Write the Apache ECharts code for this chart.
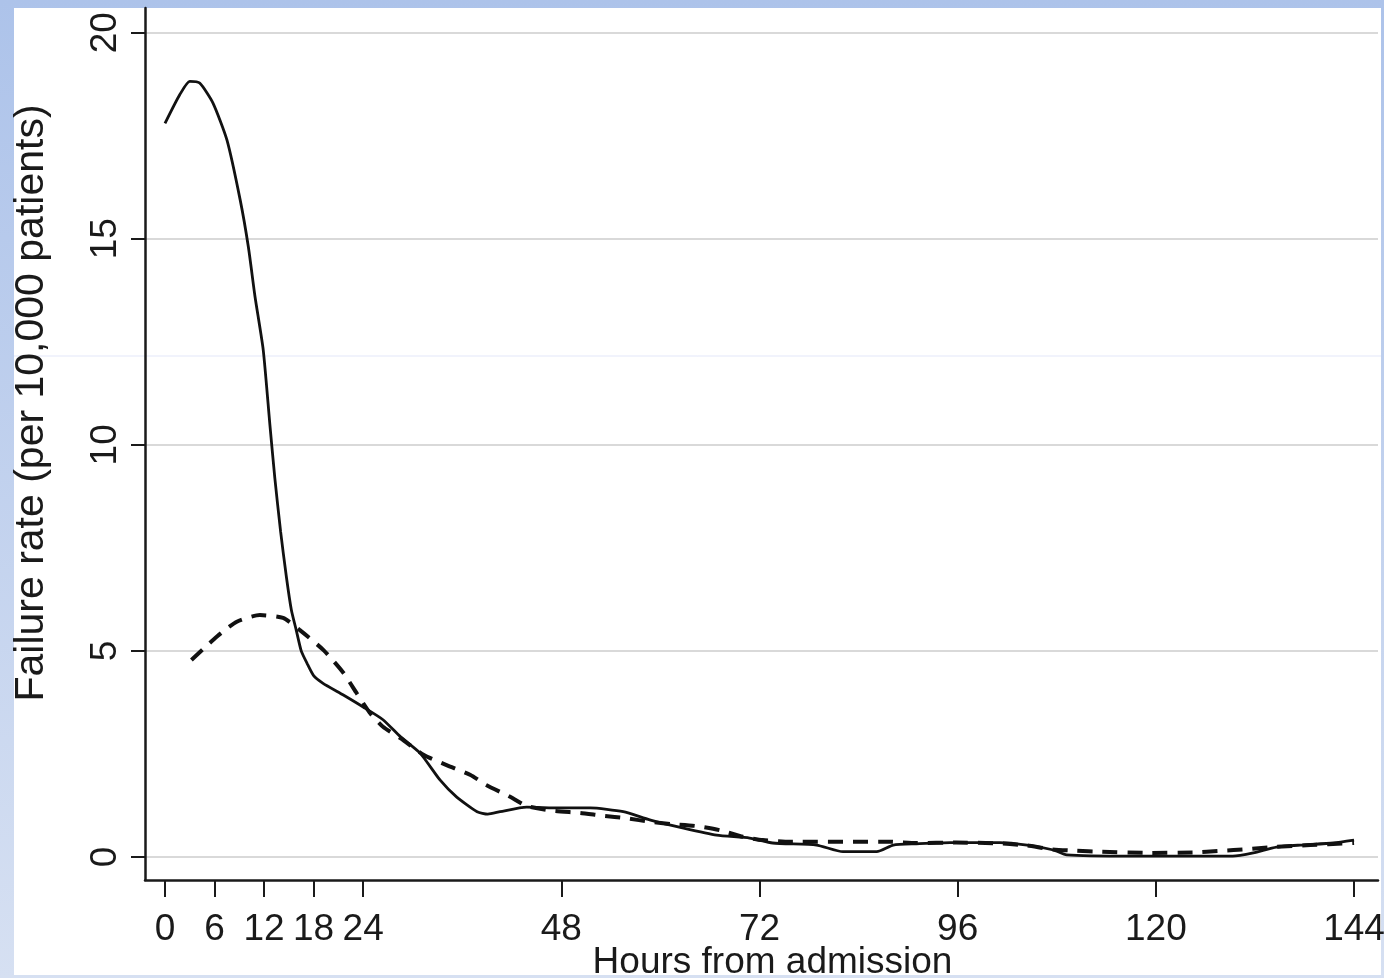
<!DOCTYPE html>
<html>
<head>
<meta charset="utf-8">
<script src="https://cdn.jsdelivr.net/npm/echarts@6/dist/echarts.min.js"></script>
<style>
  html, body {
    margin: 0;
    width: 1384px;
    height: 978px;
    overflow: hidden;
    background: linear-gradient(to bottom, #adc3ea, #d6e0f2);
  }
  .paper {
    position: absolute;
    left: 14px;
    top: 8px;
    width: 1367px;
    height: 967px;
    background: #ffffff;
  }
  #main {
    position: absolute;
    left: 0;
    top: 0;
    width: 1384px;
    height: 978px;
  }
</style>
</head>
<body>
<div class="paper"></div>
<div id="main"></div>
<script>
  // tick positions
  const xTicks = [0, 6, 12, 18, 24, 48, 72, 96, 120, 144];
  const yTicks = [0, 5, 10, 15, 20];

  // solid curve
  const solidHours = [0, 1.8, 3, 4.2, 5.8, 7.5, 9.1, 10.1, 10.9, 11.9, 12.7, 13.3, 14.0, 14.7, 15.3, 15.9, 16.5,
    17.2, 18.0, 19.1, 21.6, 24, 26.4, 28.5, 30.9, 33.3, 35.3, 37.8, 39.1, 40.6, 43.8, 47.8, 51.5, 55.5,
    58.7, 62.8, 66.8, 70.8, 73.6, 78.9, 82.1, 86.2, 88.2, 91, 95.1, 97.1, 101.1, 104.4, 107.6, 109.2,
    117.2, 129.3, 131.8, 134.6, 137.5, 141.5, 144];
  const solidRate = [17.8, 18.5, 18.82, 18.78, 18.3, 17.4, 15.95, 14.8, 13.6, 12.3, 10.5, 9.2, 7.9, 6.8, 6.0, 5.5, 5.0,
    4.7, 4.4, 4.22, 3.93, 3.64, 3.33, 2.92, 2.52, 1.87, 1.46, 1.1, 1.04, 1.1, 1.21, 1.19, 1.19, 1.1,
    0.9, 0.7, 0.53, 0.46, 0.34, 0.29, 0.13, 0.13, 0.29, 0.32, 0.35, 0.35, 0.35, 0.29, 0.17, 0.05,
    0.02, 0.02, 0.1, 0.24, 0.29, 0.34, 0.41];

  // dashed curve
  const dashHours = [3.2, 6.3, 8.7, 11.5, 14.3, 16.3, 19.2, 21.6, 23.2, 24.8, 26.4, 28.6, 31.3, 34.1, 37, 38.9,
    41.8, 43.8, 47, 50.3, 53, 55.9, 58.9, 61.2, 64.4, 67.2, 70, 72.4, 75.7, 87.8, 91, 95.8, 101.1,
    104.4, 107.2, 110.4, 113.2, 119.3, 124.5, 127.8, 131, 134.6, 138.7, 143.1, 144];
  const dashRate = [4.78, 5.35, 5.71, 5.87, 5.8, 5.51, 5.02, 4.47, 3.98, 3.5, 3.16, 2.87, 2.48, 2.23, 1.99, 1.75,
    1.46, 1.24, 1.12, 1.07, 1.0, 0.94, 0.85, 0.8, 0.75, 0.65, 0.49, 0.41, 0.37, 0.37, 0.34, 0.35, 0.33,
    0.28, 0.19, 0.15, 0.13, 0.1, 0.11, 0.15, 0.19, 0.25, 0.29, 0.33, 0.34];

  const zip = (xs, ys) => xs.map((x, i) => [x, ys[i]]);

  const chart = echarts.init(document.getElementById('main'), null, { renderer: 'canvas' });

  chart.setOption({
    backgroundColor: 'transparent',
    animation: false,
    grid: {
      left: 145,
      right: 6,
      top: 8,
      bottom: 98,
      containLabel: false,
      outerBoundsMode: 'none'
    },
    graphic: [{
      type: 'line',
      silent: true,
      z: 0,
      shape: { x1: 14, y1: 356, x2: 1381, y2: 356 },
      style: { stroke: 'rgba(190,200,240,0.45)', lineWidth: 1 }
    }],
    xAxis: {
      type: 'value',
      min: -2.42,
      max: 146.9,
      name: 'Hours from admission',
      nameLocation: 'middle',
      nameGap: 64,
      nameMoveOverlap: false,
      nameTextStyle: {
        fontFamily: '"Liberation Sans", Arial, sans-serif',
        fontSize: 37,
        color: '#1a1a1a',
        padding: [0, 0, 0, 22]
      },
      axisLine: { onZero: false, lineStyle: { color: '#1a1a1a', width: 2.5 } },
      axisTick: {
        customValues: xTicks,
        length: 17,
        lineStyle: { color: '#1a1a1a', width: 2 }
      },
      axisLabel: {
        customValues: xTicks,
        margin: 31,
        fontFamily: '"Liberation Sans", Arial, sans-serif',
        fontSize: 37,
        color: '#1a1a1a'
      },
      splitLine: { show: false }
    },
    yAxis: {
      type: 'value',
      min: -0.558,
      max: 20.6,
      name: 'Failure rate (per 10,000 patients)',
      nameLocation: 'middle',
      nameRotate: 90,
      nameGap: 93,
      nameMoveOverlap: false,
      nameTextStyle: {
        fontFamily: '"Liberation Sans", Arial, sans-serif',
        fontSize: 41,
        color: '#1a1a1a',
        padding: [0, 0, 0, 82]
      },
      axisLine: { show: true, onZero: false, lineStyle: { color: '#1a1a1a', width: 2.5 } },
      axisTick: {
        show: true,
        customValues: yTicks,
        length: 14,
        lineStyle: { color: '#1a1a1a', width: 2 }
      },
      axisLabel: {
        customValues: yTicks,
        rotate: 90,
        margin: 21,
        align: 'center',
        verticalAlign: 'bottom',
        fontFamily: '"Liberation Sans", Arial, sans-serif',
        fontSize: 37,
        color: '#1a1a1a'
      },
      splitLine: {
        show: true,
        lineStyle: { color: '#d9d9d9', width: 2 }
      }
    },
    series: [{
      name: 'solid',
      type: 'line',
      data: zip(solidHours, solidRate),
      showSymbol: false,
      smooth: 0.2,
      lineStyle: { color: '#111111', width: 2.8, type: 'solid' }
    }, {
      name: 'dashed',
      type: 'line',
      data: zip(dashHours, dashRate),
      showSymbol: false,
      smooth: 0.2,
      lineStyle: { color: '#111111', width: 4, type: [15, 10] }
    }]
  });
</script>
</body>
</html>
